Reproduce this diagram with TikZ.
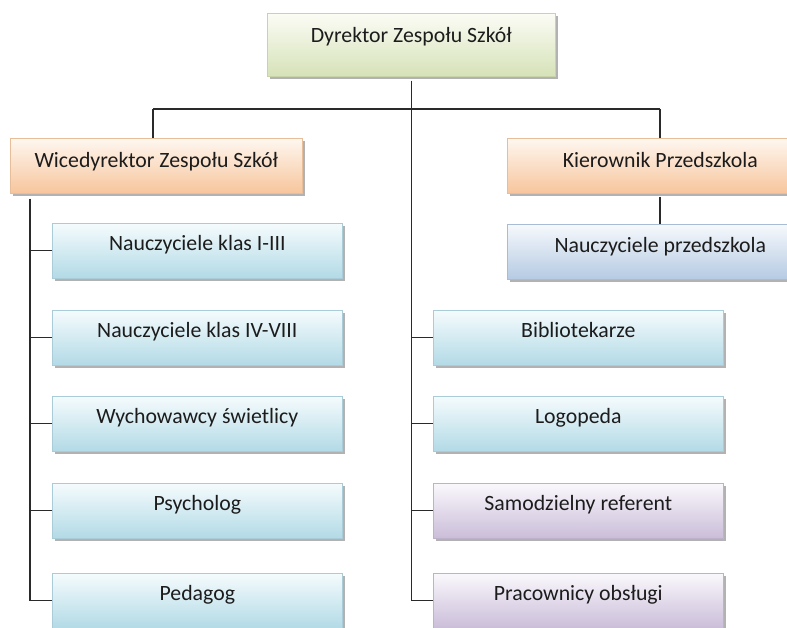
\documentclass[tikz,border=0pt]{standalone}
\usepackage{fontspec}
\setmainfont{Carlito}
\usetikzlibrary{shadows}
\definecolor{grnT}{HTML}{FBFCF5}
\definecolor{grnB}{HTML}{D6E2B8}
\definecolor{grnD}{HTML}{C9D3A8}
\definecolor{orT}{HTML}{FEF7F0}
\definecolor{orB}{HTML}{F7C59C}
\definecolor{orD}{HTML}{E8BE9A}
\definecolor{cyT}{HTML}{F5FBFD}
\definecolor{cyB}{HTML}{B2DAE6}
\definecolor{cyD}{HTML}{A9CCD8}
\definecolor{blT}{HTML}{F6F9FC}
\definecolor{blB}{HTML}{B5CAE3}
\definecolor{blD}{HTML}{A8BCD6}
\definecolor{puT}{HTML}{FAF8FC}
\definecolor{puB}{HTML}{CABDD9}
\definecolor{puD}{HTML}{BDB1CC}
\definecolor{txt}{HTML}{1C1C1C}
\definecolor{lne}{HTML}{2A2A2A}
\tikzset{
  orgbox/.style={rectangle, inner sep=0pt, minimum width=290pt, minimum height=55pt,
    text height=27pt, text depth=28pt, anchor=north west, font=\fontsize{21.8}{24}\selectfont,
    text=txt, line width=0.6pt,
    drop shadow={shadow xshift=2.5pt, shadow yshift=-3pt, fill=black!40, opacity=0.75}},
  green/.style={orgbox, draw=grnD, top color=grnT, bottom color=grnB},
  orange/.style={orgbox, draw=orD, top color=orT, bottom color=orB, text height=29pt, text depth=26pt},
  cyanbox/.style={orgbox, draw=cyD, top color=cyT, bottom color=cyB},
  bluebox/.style={orgbox, draw=blD, top color=blT, bottom color=blB},
  purplebox/.style={orgbox, draw=puD, top color=puT, bottom color=puB},
  conn/.style={draw=lne, line width=1.2pt}
}
\begin{document}
\begin{tikzpicture}[x=1pt, y=-1pt]
\useasboundingbox (0,0) rectangle (787,628);
\clip (0,0) rectangle (787,628);
\fill[white] (0,0) rectangle (787,628);
% nodes
\node[green, minimum width=288pt, minimum height=63pt, text height=29pt, text depth=34pt] (dyr) at (267,13) {Dyrektor Zespołu Szkół};
\node[orange, minimum width=292pt] (wice) at (10,138) {Wicedyrektor Zespołu Szkół};
\node[orange, minimum width=306pt] (kier) at (507,138) {Kierownik Przedszkola};
\node[bluebox, minimum width=306pt, text height=28pt, text depth=27pt] (np) at (507,224) {Nauczyciele przedszkola};
\node[cyanbox] (n1) at (52,223) {Nauczyciele klas I-III};
\node[cyanbox] (n2) at (52,310) {Nauczyciele klas IV-VIII};
\node[cyanbox] (n3) at (52,396) {Wychowawcy świetlicy};
\node[cyanbox] (n4) at (52,483) {Psycholog};
\node[cyanbox] (n5) at (52,573) {Pedagog};
\node[cyanbox] (r1) at (433,310) {Bibliotekarze};
\node[cyanbox] (r2) at (433,396) {Logopeda};
\node[purplebox] (r3) at (433,483) {Samodzielny referent};
\node[purplebox] (r4) at (433,573) {Pracownicy obsługi};
% connectors
\coordinate (busL) at (153,109);
\coordinate (busR) at (660,109);
\coordinate (lx) at (30,0);
\draw[conn] (busL) -- (busR);
\draw[conn] (busL) -- (busL |- wice.north);
\draw[conn] (busR) -- (busR |- kier.north);
\draw[conn] ([yshift=-3pt]busR |- kier.south) -- (busR |- np.north);
\draw[conn] ([yshift=-4pt]dyr.south) |- (r4.west);
\draw[conn] (dyr.south |- r1.west) -- (r1.west);
\draw[conn] (dyr.south |- r2.west) -- (r2.west);
\draw[conn] (dyr.south |- r3.west) -- (r3.west);
\draw[conn] ([yshift=-5pt]lx |- wice.south) |- (n5.west);
\draw[conn] (lx |- n1.west) -- (n1.west);
\draw[conn] (lx |- n2.west) -- (n2.west);
\draw[conn] (lx |- n3.west) -- (n3.west);
\draw[conn] (lx |- n4.west) -- (n4.west);
\end{tikzpicture}
\end{document}
